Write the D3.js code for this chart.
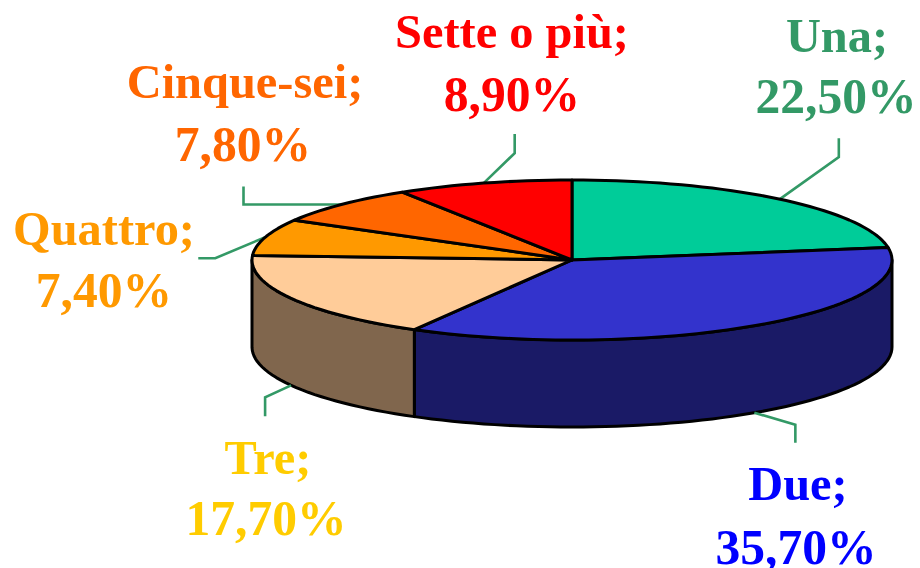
<!DOCTYPE html>
<html>
<head>
<meta charset="utf-8">
<script src="https://cdn.jsdelivr.net/npm/d3@7"></script>
<style>
  html, body { margin: 0; padding: 0; background: #fff; }
  text { font-family: "Liberation Serif", serif; font-weight: bold; text-anchor: middle; }
  .name { font-size: 48.4px; }
  .value { font-size: 49.6px; }
</style>
</head>
<body>
<div id="chart"></div>
<script>
(function () {

    // data
    const categories = ['Una', 'Due', 'Tre', 'Quattro', 'Cinque-sei', 'Sette o più'];
    const values = [22.5, 35.7, 17.7, 7.4, 7.8, 8.9];
    const valueLabels = ['22,50%', '35,70%', '17,70%', '7,40%', '7,80%', '8,90%'];

    // styles
    const topColors = ['#00cc99', '#3333cc', '#ffcc99', '#ff9900', '#ff6600', '#ff0000'];
    const wallColors = ['#006650', '#1a1a66', '#80664d', '#804d00', '#803300', '#800000'];
    const labelColors = ['#339966', '#0000ff', '#ffcc00', '#ff9900', '#ff6600', '#ff0000'];
    const leaderColor = '#339966';

    // layout
    const width = 920;
    const height = 568;
    const cx = 572;
    const cy = 260;
    const rx = 320;
    const ry = 80;
    const depth = 87;

    // label centres / baselines, per category
    const nameX = [837, 798, 268, 104, 245, 512];
    const nameY = [52, 500, 474, 245, 98, 48];
    const valueX = [836, 796, 266, 104, 243, 512];
    const valueY = [113, 564, 535, 307, 161, 111];

    // leader line bends relative to the slice's rim point
    const leaderBends = [
        [[59, -42], [59, -61]],
        [[41, 12], [41, 30]],
        [[-26, 12], [-26, 31]],
        [[-50, 21], [-67, 21]],
        [[-98, 0], [-98, -18]],
        [[31, -30], [31, -49]]
    ];

    const svg = d3.select('#chart')
        .append('svg')
        .attr('width', width)
        .attr('height', height)
        .style('display', 'block');

    const slices = d3.pie().sort(null).value(d => d)(values);

    const scaleX = d3.scaleLinear().domain([-1, 1]).range([cx - rx, cx + rx]);
    const scaleY = d3.scaleLinear().domain([-1, 1]).range([cy - ry, cy + ry]);

    const rim = (a, drop) => [scaleX(Math.sin(a)), scaleY(-Math.cos(a)) + (drop || 0)];
    const line = d3.line();

    function arcAngles(a0, a1) {
        const step = Math.PI / 90;
        const list = d3.range(a0, a1, step);
        list.push(a1);
        return list;
    }

    // walls: only the front half of the rim shows
    const front = [Math.PI / 2, Math.PI * 1.5];
    slices.forEach((s, i) => {
        const a0 = Math.max(s.startAngle, front[0]);
        const a1 = Math.min(s.endAngle, front[1]);
        if (a1 <= a0) return;
        const angles = arcAngles(a0, a1);
        const pts = angles.map(a => rim(a, 0))
            .concat(angles.slice().reverse().map(a => rim(a, depth)));
        svg.append('path')
            .attr('d', line(pts) + 'Z')
            .attr('fill', wallColors[i])
            .attr('stroke', '#000')
            .attr('stroke-width', 3)
            .attr('stroke-linejoin', 'round');
    });

    // leaders sit under the pie edge
    slices.forEach((s, i) => {
        const mid = (s.startAngle + s.endAngle) / 2;
        const onFront = mid > front[0] && mid < front[1];
        const p = rim(mid, onFront ? depth : 0);
        const pts = [p].concat(leaderBends[i].map(b => [p[0] + b[0], p[1] + b[1]]));
        svg.append('path')
            .attr('d', line(pts))
            .attr('fill', 'none')
            .attr('stroke', leaderColor)
            .attr('stroke-width', 2.6);
    });

    // top face
    slices.forEach((s, i) => {
        const pts = [[cx, cy]].concat(arcAngles(s.startAngle, s.endAngle).map(a => rim(a, 0)));
        svg.append('path')
            .attr('d', line(pts) + 'Z')
            .attr('fill', topColors[i])
            .attr('stroke', '#000')
            .attr('stroke-width', 3)
            .attr('stroke-linejoin', 'round');
    });

    // labels
    categories.forEach((c, i) => {
        svg.append('text')
            .attr('class', 'name')
            .attr('x', nameX[i])
            .attr('y', nameY[i])
            .attr('fill', labelColors[i])
            .text(c + ';');
        svg.append('text')
            .attr('class', 'value')
            .attr('x', valueX[i])
            .attr('y', valueY[i])
            .attr('fill', labelColors[i])
            .text(valueLabels[i]);
    });

})();
</script>
</body>
</html>
